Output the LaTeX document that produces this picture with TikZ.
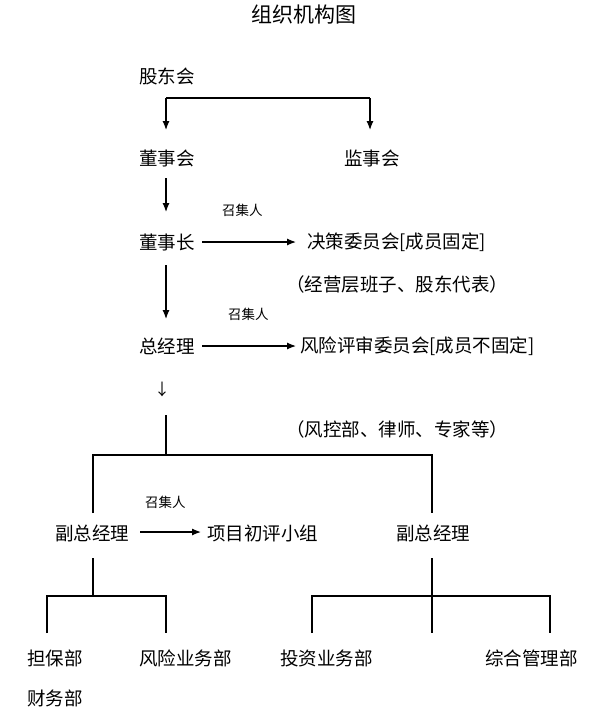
\documentclass[tikz,border=0pt]{standalone}
\usepackage{fontspec}
\setmainfont{Noto Sans CJK SC}
\usetikzlibrary{arrows.meta}
\begin{document}
\begin{tikzpicture}[x=1pt,y=-1pt,
  lbl/.style={anchor=west,inner sep=0pt,font=\fontsize{18.5}{20}\selectfont},
  sml/.style={anchor=west,inner sep=0pt,font=\fontsize{13.5}{15}\selectfont},
  ttl/.style={inner sep=0pt,font=\fontsize{21}{23}\selectfont},
  ln/.style={line width=1.2pt},
  arr/.style={line width=1.2pt,-{Latex[length=9pt,width=7pt]}}]
\useasboundingbox (0,0) rectangle (598,715);

% title
\node[ttl] (title) at (304,15) {组织机构图};

% nodes
\node[lbl] (gd)  at (139,76)  {股东会};
\node[lbl] (dsh) at (139,158) {董事会};
\node[lbl] (jsh) at (344,158) {监事会};
\node[lbl] (dsz) at (139,242) {董事长};
\node[lbl] (jcw) at (307,242) {决策委员会[成员固定]};
\node[lbl] (jyc) at (286,284) {（经营层班子、股东代表）};
\node[lbl] (zjl) at (139,346) {总经理};
\node[lbl] (fxp) at (300,346) {风险评审委员会[成员不固定]};
\node[inner sep=0pt,font=\fontsize{16}{18}\selectfont] (down) at (162,389) {↓};
\node[lbl] (fk)  at (286,429) {（风控部、律师、专家等）};
\node[lbl] (fz1) at (55,533)  {副总经理};
\node[lbl] (xm)  at (207,533) {项目初评小组};
\node[lbl] (fz2) at (396,533) {副总经理};
\node[lbl] (db)  at (27,658)  {担保部};
\node[lbl] (fxy) at (139,658) {风险业务部};
\node[lbl] (tz)  at (280,658) {投资业务部};
\node[lbl] (zh)  at (485,658) {综合管理部};
\node[lbl] (cw)  at (27,698)  {财务部};

% small labels
\node[sml] (z1) at (222,210) {召集人};
\node[sml] (z2) at (228,314) {召集人};
\node[sml] (z3) at (145,502) {召集人};

% coordinates
\coordinate (gdL) at (166,98);
\coordinate (gdR) at (370,98);
\coordinate (dshT) at (166,130);
\coordinate (jshT) at (370,130);
\coordinate (dshB) at (166,178);
\coordinate (dszT) at (166,212);
\coordinate (dszR) at (202,242);
\coordinate (jcwL) at (296,242);
\coordinate (dszB) at (166,265);
\coordinate (zjlT) at (166,319);
\coordinate (zjlR) at (202,346);
\coordinate (fxpL) at (296,346);
\coordinate (vT) at (166,415);
\coordinate (vB) at (166,455);
\coordinate (hL) at (93,455);
\coordinate (hR) at (432,455);
\coordinate (fz1T) at (93,513);
\coordinate (fz2T) at (432,513);
\coordinate (fz1R) at (140,532);
\coordinate (xmL) at (201,532);
\coordinate (fz1B) at (93,558);
\coordinate (lH) at (93,596);
\coordinate (lL) at (47,596);
\coordinate (lR) at (166,596);
\coordinate (dbT) at (47,633);
\coordinate (fxyT) at (166,633);
\coordinate (fz2B) at (432,558);
\coordinate (rM) at (432,633);
\coordinate (rL) at (312,596);
\coordinate (rR) at (550,596);
\coordinate (tzT) at (312,633);
\coordinate (zhT) at (550,633);

% connectors
\draw[ln] (gdL) -- (gdR);
\draw[arr] (gdL) -- (dshT);
\draw[arr] (gdR) -- (jshT);
\draw[arr] (dshB) -- (dszT);
\draw[arr] (dszR) -- (jcwL);
\draw[arr] (dszB) -- (zjlT);
\draw[arr] (zjlR) -- (fxpL);
\draw[ln] (vT) -- (vB);
\draw[ln] (fz1T) -- (hL) -- (hR) -- (fz2T);
\draw[arr] (fz1R) -- (xmL);
\draw[ln] (fz1B) -- (lH);
\draw[ln] (dbT) -- (lL) -- (lR) -- (fxyT);
\draw[ln] (fz2B) -- (rM);
\draw[ln] (tzT) -- (rL) -- (rR) -- (zhT);
\end{tikzpicture}
\end{document}
